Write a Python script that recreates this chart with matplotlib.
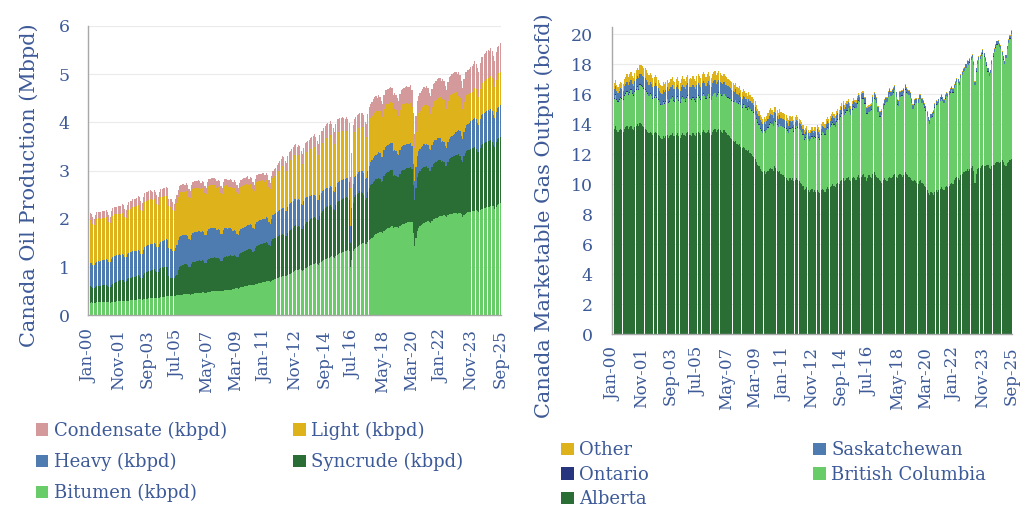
import numpy as np
import pandas as pd
import matplotlib
matplotlib.use('Agg')
import matplotlib.pyplot as plt
from matplotlib.patches import Patch

# ---- oil production by type, kbpd, monthly Jan-2000 .. Sep-2025 (one row per year)
bitumen = [
    262, 268, 270, 265, 258, 266, 272, 275, 270, 278, 282, 280,
    280, 284, 278, 272, 265, 275, 282, 288, 285, 290, 292, 296,
    300, 305, 308, 300, 295, 303, 310, 315, 312, 320, 325, 322,
    330, 335, 340, 332, 325, 338, 345, 350, 352, 355, 360, 362,
    365, 370, 372, 368, 360, 372, 380, 385, 388, 392, 395, 398,
    400, 405, 410, 402, 398, 410, 418, 420, 425, 428, 432, 435,
    438, 442, 445, 440, 432, 445, 452, 458, 460, 465, 468, 470,
    472, 478, 482, 475, 470, 485, 492, 495, 498, 502, 505, 508,
    510, 512, 515, 505, 498, 512, 520, 525, 528, 530, 535, 538,
    545, 555, 562, 560, 555, 570, 585, 592, 600, 608, 615, 620,
    625, 632, 640, 635, 630, 648, 660, 668, 672, 680, 690, 695,
    700, 712, 720, 705, 690, 715, 735, 748, 760, 770, 782, 790,
    800, 815, 828, 820, 810, 835, 855, 870, 885, 900, 925, 940,
    935, 945, 955, 940, 925, 950, 975, 990, 1005, 1020, 1040, 1055,
    1060, 1075, 1085, 1070, 1055, 1090, 1115, 1130, 1150, 1165, 1180, 1195,
    1200, 1215, 1225, 1210, 1195, 1230, 1255, 1270, 1285, 1295, 1310, 1320,
    1330, 1345, 1355, 1340, 1000, 1150, 1330, 1380, 1400, 1420, 1440, 1460,
    1480, 1495, 1505, 1490, 1475, 1520, 1560, 1585, 1610, 1635, 1660, 1680,
    1700, 1715, 1730, 1720, 1705, 1745, 1775, 1790, 1805, 1820, 1840, 1850,
    1810, 1825, 1840, 1835, 1820, 1850, 1880, 1895, 1905, 1915, 1925, 1935,
    1940, 1945, 1930, 1700, 1450, 1600, 1750, 1820, 1850, 1880, 1900, 1920,
    1930, 1945, 1955, 1940, 1925, 1960, 1990, 2005, 2015, 2030, 2045, 2055,
    2060, 2070, 2080, 2065, 2040, 2075, 2095, 2105, 2110, 2115, 2120, 2125,
    2110, 2120, 2125, 2100, 2040, 2080, 2110, 2125, 2135, 2140, 2150, 2160,
    2165, 2175, 2185, 2170, 2140, 2180, 2205, 2215, 2225, 2235, 2245, 2250,
    2255, 2265, 2275, 2260, 2200, 2250, 2290, 2310, 2330,
]
syncrude = [
    330, 335, 320, 300, 310, 325, 340, 345, 338, 342, 350, 348,
    345, 352, 340, 320, 330, 360, 380, 395, 400, 410, 420, 430,
    435, 440, 425, 400, 420, 450, 465, 470, 460, 475, 480, 485,
    490, 495, 470, 440, 460, 500, 530, 545, 550, 560, 570, 575,
    580, 585, 560, 530, 550, 590, 605, 610, 600, 615, 620, 600,
    420, 380, 370, 365, 380, 400, 430, 520, 580, 600, 610, 615,
    620, 625, 600, 560, 580, 630, 650, 660, 655, 665, 670, 675,
    660, 665, 640, 610, 620, 660, 680, 690, 685, 695, 700, 690,
    680, 675, 650, 620, 640, 680, 700, 705, 690, 700, 710, 705,
    690, 700, 680, 650, 660, 700, 720, 730, 725, 735, 740, 745,
    745, 750, 720, 690, 700, 750, 780, 790, 785, 795, 800, 805,
    810, 820, 790, 750, 760, 820, 850, 860, 855, 865, 870, 875,
    870, 880, 850, 820, 840, 880, 900, 910, 905, 915, 920, 925,
    905, 915, 880, 850, 860, 900, 930, 940, 935, 945, 950, 955,
    960, 970, 930, 900, 920, 980, 1010, 1030, 1050, 1060, 1065, 1070,
    1060, 1075, 1030, 990, 1000, 1050, 1090, 1100, 1095, 1105, 1110, 1115,
    1100, 1110, 1080, 1050, 500, 700, 1000, 1080, 1090, 1100, 1105, 1110,
    1080, 1050, 1000, 900, 950, 1030, 1080, 1110, 1120, 1130, 1135, 1140,
    1120, 1130, 1090, 1050, 1080, 1140, 1160, 1170, 1165, 1175, 1180, 1170,
    1080, 1090, 1060, 1030, 1050, 1090, 1110, 1120, 1115, 1125, 1130, 1125,
    1120, 1130, 1100, 1000, 950, 1050, 1120, 1140, 1135, 1145, 1150, 1155,
    1140, 1150, 1110, 1060, 1070, 1120, 1150, 1160, 1155, 1165, 1170, 1165,
    1120, 1130, 1090, 1040, 1050, 1100, 1140, 1160, 1170, 1180, 1190, 1200,
    1210, 1220, 1180, 1130, 1150, 1220, 1260, 1280, 1285, 1295, 1300, 1305,
    1300, 1310, 1270, 1220, 1240, 1300, 1330, 1340, 1345, 1350, 1355, 1360,
    1360, 1365, 1320, 1270, 1290, 1340, 1360, 1370, 1375,
]
heavy = [
    490, 495, 500, 480, 470, 490, 500, 505, 510, 505, 515, 520,
    530, 535, 540, 520, 505, 530, 545, 550, 555, 550, 545, 540,
    520, 525, 530, 505, 490, 515, 530, 535, 540, 545, 540, 535,
    525, 530, 535, 510, 495, 520, 540, 545, 550, 555, 550, 545,
    535, 540, 545, 520, 500, 525, 540, 545, 550, 555, 560, 565,
    580, 590, 600, 575, 560, 590, 610, 615, 620, 625, 620, 615,
    600, 605, 610, 580, 560, 590, 605, 610, 615, 610, 605, 600,
    595, 600, 610, 585, 570, 600, 615, 620, 625, 620, 615, 605,
    590, 595, 600, 570, 550, 575, 585, 590, 580, 575, 565, 555,
    520, 510, 505, 480, 460, 475, 485, 490, 495, 500, 505, 510,
    505, 510, 515, 490, 470, 495, 505, 510, 515, 510, 505, 500,
    495, 500, 505, 475, 450, 470, 490, 500, 505, 510, 515, 520,
    530, 540, 550, 525, 505, 535, 550, 555, 560, 565, 560, 555,
    545, 550, 555, 525, 500, 520, 530, 525, 515, 505, 495, 485,
    470, 460, 455, 430, 410, 425, 420, 410, 400, 395, 390, 385,
    390, 395, 400, 380, 365, 385, 395, 400, 405, 400, 395, 390,
    395, 400, 405, 385, 350, 380, 395, 405, 410, 415, 420, 425,
    430, 440, 450, 430, 415, 445, 465, 475, 485, 495, 505, 515,
    525, 535, 545, 520, 505, 535, 550, 560, 565, 560, 555, 545,
    510, 505, 500, 480, 465, 485, 495, 500, 505, 500, 495, 490,
    485, 490, 480, 430, 390, 420, 440, 450, 455, 460, 465, 470,
    460, 465, 470, 445, 425, 450, 460, 465, 470, 475, 470, 465,
    420, 425, 430, 400, 380, 410, 425, 430, 440, 450, 460, 470,
    500, 510, 520, 495, 470, 500, 520, 535, 545, 560, 575, 590,
    600, 610, 615, 590, 570, 600, 615, 620, 625, 630, 635, 640,
    630, 640, 645, 615, 600, 625, 640, 645, 650,
]
light = [
    880, 885, 875, 850, 830, 860, 880, 885, 880, 875, 870, 865,
    860, 865, 855, 830, 815, 845, 860, 865, 860, 855, 850, 845,
    850, 860, 870, 840, 825, 860, 880, 890, 895, 900, 905, 910,
    920, 930, 935, 905, 885, 920, 935, 940, 935, 930, 925, 920,
    915, 920, 925, 895, 875, 905, 920, 925, 920, 915, 910, 905,
    870, 875, 880, 850, 835, 865, 880, 890, 895, 900, 905, 910,
    900, 905, 910, 880, 860, 890, 905, 910, 905, 900, 895, 890,
    895, 900, 905, 875, 860, 885, 900, 905, 900, 895, 890, 885,
    870, 875, 880, 850, 830, 860, 870, 875, 870, 865, 860, 855,
    880, 885, 890, 860, 840, 865, 875, 880, 875, 870, 865, 860,
    820, 825, 830, 800, 780, 805, 815, 820, 815, 810, 805, 800,
    760, 765, 770, 740, 720, 750, 770, 785, 800, 815, 830, 845,
    860, 870, 880, 850, 830, 865, 885, 895, 900, 905, 910, 915,
    900, 905, 915, 880, 860, 895, 915, 925, 935, 945, 955, 965,
    975, 985, 995, 960, 940, 980, 1000, 1010, 1020, 1030, 1035, 1040,
    1040, 1045, 1050, 1010, 985, 1020, 1035, 1030, 1020, 1010, 1000, 990,
    980, 975, 970, 930, 800, 880, 930, 940, 935, 930, 925, 920,
    910, 915, 920, 885, 865, 900, 915, 920, 915, 910, 905, 900,
    860, 865, 870, 835, 815, 850, 860, 865, 855, 850, 840, 835,
    845, 850, 855, 825, 805, 840, 855, 860, 855, 850, 845, 840,
    830, 835, 820, 740, 680, 730, 770, 790, 800, 805, 810, 815,
    800, 805, 810, 780, 760, 790, 805, 815, 820, 825, 830, 835,
    860, 865, 870, 840, 815, 850, 865, 870, 865, 855, 845, 835,
    720, 700, 690, 650, 610, 630, 640, 630, 620, 600, 590, 580,
    610, 620, 630, 600, 580, 620, 640, 650, 655, 660, 665, 670,
    680, 685, 690, 660, 640, 670, 685, 690, 695,
]
condensate = [
    140, 150, 135, 145, 130, 140, 150, 135, 145, 140, 150, 145,
    145, 155, 140, 150, 135, 145, 155, 140, 150, 145, 155, 150,
    160, 170, 155, 165, 150, 160, 170, 155, 165, 175, 170, 165,
    175, 185, 170, 180, 165, 175, 185, 170, 180, 175, 185, 180,
    170, 180, 165, 175, 160, 170, 180, 165, 175, 170, 180, 175,
    150, 160, 145, 155, 140, 150, 160, 145, 155, 150, 160, 155,
    150, 160, 145, 155, 140, 150, 160, 145, 155, 150, 160, 155,
    130, 140, 125, 135, 120, 130, 140, 125, 135, 130, 140, 135,
    140, 150, 135, 145, 130, 140, 150, 135, 145, 140, 150, 145,
    140, 150, 135, 145, 130, 140, 150, 135, 145, 140, 150, 145,
    140, 150, 135, 145, 130, 140, 150, 135, 145, 140, 150, 145,
    140, 150, 135, 145, 130, 140, 150, 135, 145, 150, 160, 170,
    180, 195, 175, 190, 170, 185, 200, 180, 195, 205, 215, 210,
    210, 225, 200, 215, 195, 210, 225, 205, 220, 230, 240, 235,
    250, 270, 240, 260, 235, 255, 275, 250, 270, 285, 295, 290,
    280, 295, 270, 285, 260, 280, 295, 270, 285, 280, 290, 285,
    275, 290, 265, 280, 220, 260, 285, 265, 280, 285, 295, 290,
    290, 305, 280, 295, 270, 290, 305, 285, 300, 310, 320, 315,
    300, 320, 290, 310, 280, 300, 320, 295, 310, 315, 325, 320,
    320, 340, 310, 330, 300, 320, 340, 315, 335, 340, 350, 345,
    350, 370, 340, 330, 300, 330, 355, 340, 360, 365, 375, 370,
    380, 400, 370, 390, 360, 380, 400, 375, 395, 405, 415, 410,
    400, 420, 390, 410, 380, 400, 420, 395, 415, 420, 430, 425,
    470, 500, 460, 490, 450, 480, 505, 475, 500, 520, 530, 525,
    530, 560, 520, 550, 510, 540, 565, 535, 560, 570, 580, 575,
    560, 590, 550, 580, 540, 570, 595, 565, 590,
]

# ---- marketable gas output by province, bcfd
alberta = [
    13.8, 13.7, 13.9, 13.6, 13.5, 13.6, 13.7, 13.6, 13.5, 13.7, 13.8, 13.9,
    13.7, 13.8, 13.9, 13.7, 13.6, 13.8, 13.9, 14.0, 13.9, 14.1, 14.0, 13.9,
    13.8, 13.7, 13.6, 13.5, 13.4, 13.5, 13.4, 13.3, 13.4, 13.5, 13.4, 13.3,
    13.2, 13.1, 13.0, 13.2, 13.1, 13.2, 13.3, 13.1, 13.2, 13.3, 13.4, 13.2,
    13.2, 13.3, 13.4, 13.2, 13.1, 13.3, 13.4, 13.3, 13.2, 13.4, 13.5, 13.3,
    13.3, 13.2, 13.4, 13.3, 13.2, 13.4, 13.5, 13.4, 13.3, 13.5, 13.6, 13.5,
    13.4, 13.5, 13.6, 13.4, 13.3, 13.5, 13.6, 13.7, 13.5, 13.6, 13.7, 13.6,
    13.5, 13.4, 13.6, 13.5, 13.4, 13.3, 13.2, 13.1, 13.0, 12.9, 12.8, 12.9,
    12.7, 12.6, 12.7, 12.5, 12.4, 12.5, 12.4, 12.3, 12.2, 12.3, 12.1, 12.0,
    11.9, 11.8, 11.7, 11.5, 11.3, 11.2, 11.0, 10.9, 10.8, 10.9, 10.7, 10.8,
    10.9, 11.0, 11.1, 11.0, 10.9, 11.2, 11.1, 10.9, 10.8, 10.9, 10.7, 10.6,
    10.6, 10.5, 10.4, 10.3, 10.2, 10.4, 10.3, 10.4, 10.2, 10.3, 10.4, 10.3,
    10.2, 10.1, 10.0, 9.9, 9.6, 9.7, 9.8, 9.6, 9.5, 9.6, 9.7, 9.5,
    9.6, 9.5, 9.6, 9.5, 9.4, 9.6, 9.7, 9.6, 9.5, 9.7, 9.8, 9.7,
    9.8, 9.9, 10.0, 9.9, 9.8, 10.0, 10.1, 10.0, 10.2, 10.3, 10.4, 10.2,
    10.3, 10.4, 10.5, 10.3, 10.2, 10.4, 10.5, 10.4, 10.3, 10.5, 10.6, 10.4,
    10.5, 10.6, 10.7, 10.5, 10.2, 10.4, 10.6, 10.5, 10.4, 10.7, 10.8, 10.6,
    10.5, 10.4, 10.3, 10.2, 10.1, 10.3, 10.4, 10.3, 10.2, 10.4, 10.5, 10.4,
    10.5, 10.6, 10.7, 10.5, 10.4, 10.6, 10.7, 10.6, 10.5, 10.6, 10.8, 10.7,
    10.6, 10.5, 10.4, 10.3, 10.2, 10.3, 10.2, 10.1, 10.0, 10.2, 10.3, 10.1,
    10.0, 9.9, 9.8, 9.6, 9.4, 9.3, 9.5, 9.4, 9.3, 9.5, 9.6, 9.5,
    9.6, 9.7, 9.8, 9.7, 9.6, 9.8, 9.9, 9.8, 9.9, 10.0, 10.1, 10.0,
    10.3, 10.4, 10.5, 10.4, 10.3, 10.6, 10.7, 10.8, 10.8, 10.9, 11.0, 10.9,
    11.0, 11.1, 11.2, 10.9, 10.1, 10.7, 11.0, 11.1, 11.1, 11.2, 11.3, 11.2,
    11.2, 11.3, 11.3, 11.1, 11.0, 11.2, 11.3, 11.3, 11.4, 11.5, 11.5, 11.4,
    11.5, 11.6, 11.5, 11.3, 11.2, 11.4, 11.5, 11.6, 11.7,
]
british_columbia = [
    1.95, 2.00, 2.05, 2.00, 1.95, 2.00, 2.05, 2.10, 2.10, 2.15, 2.20, 2.25,
    2.25, 2.30, 2.35, 2.30, 2.25, 2.35, 2.40, 2.45, 2.40, 2.50, 2.55, 2.55,
    2.55, 2.60, 2.55, 2.50, 2.45, 2.50, 2.45, 2.40, 2.35, 2.40, 2.35, 2.30,
    2.25, 2.20, 2.25, 2.30, 2.25, 2.30, 2.35, 2.30, 2.30, 2.35, 2.40, 2.35,
    2.30, 2.35, 2.40, 2.35, 2.30, 2.35, 2.40, 2.35, 2.30, 2.35, 2.40, 2.35,
    2.35, 2.40, 2.35, 2.30, 2.30, 2.35, 2.40, 2.35, 2.30, 2.35, 2.40, 2.35,
    2.30, 2.35, 2.40, 2.35, 2.30, 2.35, 2.40, 2.35, 2.30, 2.35, 2.40, 2.40,
    2.40, 2.45, 2.40, 2.35, 2.40, 2.45, 2.50, 2.55, 2.55, 2.60, 2.65, 2.70,
    2.70, 2.75, 2.80, 2.75, 2.70, 2.80, 2.85, 2.80, 2.75, 2.85, 2.90, 2.90,
    2.95, 2.95, 2.90, 2.85, 2.80, 2.75, 2.70, 2.65, 2.60, 2.65, 2.70, 2.80,
    2.85, 2.95, 3.00, 3.00, 2.95, 3.00, 3.05, 3.05, 3.00, 3.10, 3.15, 3.20,
    3.20, 3.25, 3.30, 3.25, 3.20, 3.30, 3.35, 3.35, 3.30, 3.40, 3.45, 3.45,
    3.45, 3.50, 3.45, 3.40, 3.35, 3.40, 3.45, 3.40, 3.35, 3.40, 3.45, 3.50,
    3.55, 3.60, 3.65, 3.60, 3.55, 3.70, 3.75, 3.80, 3.80, 3.90, 3.95, 3.95,
    4.00, 4.05, 4.10, 4.05, 4.00, 4.15, 4.20, 4.25, 4.30, 4.40, 4.45, 4.40,
    4.45, 4.50, 4.55, 4.50, 4.40, 4.55, 4.65, 4.70, 4.75, 4.85, 4.95, 5.05,
    5.15, 5.10, 5.00, 4.85, 4.50, 4.30, 4.20, 4.35, 4.55, 4.75, 4.90, 5.00,
    4.90, 4.40, 4.20, 4.30, 4.50, 4.70, 4.90, 5.10, 5.25, 5.40, 5.50, 5.45,
    5.45, 5.50, 5.55, 5.30, 4.90, 4.60, 5.10, 5.30, 5.40, 5.45, 5.50, 5.40,
    5.40, 5.45, 5.35, 5.10, 4.80, 5.00, 5.20, 5.30, 5.40, 5.45, 5.35, 5.30,
    5.25, 5.20, 5.10, 4.95, 4.80, 4.70, 4.90, 5.10, 5.35, 5.60, 5.70, 5.75,
    5.80, 5.85, 5.90, 5.85, 5.80, 5.90, 5.95, 6.00, 6.05, 6.10, 6.15, 6.10,
    6.10, 6.20, 6.30, 6.35, 6.30, 6.45, 6.55, 6.65, 6.75, 6.85, 7.00, 7.05,
    7.10, 7.15, 7.20, 7.05, 6.50, 6.80, 7.00, 7.15, 7.25, 7.35, 7.40, 7.30,
    7.00, 6.60, 6.20, 6.10, 6.40, 6.80, 7.20, 7.50, 7.70, 7.80, 7.85, 7.75,
    7.50, 7.00, 6.80, 6.70, 7.20, 7.60, 7.90, 8.10, 8.30,
]
ontario = [
    0.06, 0.06, 0.06, 0.06, 0.06, 0.06, 0.06, 0.06, 0.06, 0.06, 0.06, 0.06,
    0.06, 0.06, 0.06, 0.06, 0.06, 0.06, 0.06, 0.06, 0.06, 0.06, 0.06, 0.06,
    0.05, 0.05, 0.05, 0.05, 0.05, 0.05, 0.05, 0.05, 0.05, 0.05, 0.05, 0.05,
    0.05, 0.05, 0.05, 0.05, 0.05, 0.05, 0.05, 0.05, 0.05, 0.05, 0.05, 0.05,
    0.05, 0.05, 0.05, 0.05, 0.05, 0.05, 0.05, 0.05, 0.05, 0.05, 0.05, 0.05,
    0.05, 0.05, 0.05, 0.05, 0.05, 0.05, 0.05, 0.05, 0.05, 0.05, 0.05, 0.05,
    0.04, 0.04, 0.04, 0.04, 0.04, 0.04, 0.04, 0.04, 0.04, 0.04, 0.04, 0.04,
    0.04, 0.04, 0.04, 0.04, 0.04, 0.04, 0.04, 0.04, 0.04, 0.04, 0.04, 0.04,
    0.04, 0.04, 0.04, 0.04, 0.04, 0.04, 0.04, 0.04, 0.04, 0.04, 0.04, 0.04,
    0.04, 0.04, 0.04, 0.04, 0.04, 0.04, 0.04, 0.04, 0.04, 0.04, 0.04, 0.04,
    0.04, 0.04, 0.04, 0.04, 0.04, 0.04, 0.04, 0.04, 0.04, 0.04, 0.04, 0.04,
    0.03, 0.03, 0.03, 0.03, 0.03, 0.03, 0.03, 0.03, 0.03, 0.03, 0.03, 0.03,
    0.03, 0.03, 0.03, 0.03, 0.03, 0.03, 0.03, 0.03, 0.03, 0.03, 0.03, 0.03,
    0.03, 0.03, 0.03, 0.03, 0.03, 0.03, 0.03, 0.03, 0.03, 0.03, 0.03, 0.03,
    0.03, 0.03, 0.03, 0.03, 0.03, 0.03, 0.03, 0.03, 0.03, 0.03, 0.03, 0.03,
    0.03, 0.03, 0.03, 0.03, 0.03, 0.03, 0.03, 0.03, 0.03, 0.03, 0.03, 0.03,
    0.03, 0.03, 0.03, 0.03, 0.03, 0.03, 0.03, 0.03, 0.03, 0.03, 0.03, 0.03,
    0.02, 0.02, 0.02, 0.02, 0.02, 0.02, 0.02, 0.02, 0.02, 0.02, 0.02, 0.02,
    0.02, 0.02, 0.02, 0.02, 0.02, 0.02, 0.02, 0.02, 0.02, 0.02, 0.02, 0.02,
    0.02, 0.02, 0.02, 0.02, 0.02, 0.02, 0.02, 0.02, 0.02, 0.02, 0.02, 0.02,
    0.02, 0.02, 0.02, 0.02, 0.02, 0.02, 0.02, 0.02, 0.02, 0.02, 0.02, 0.02,
    0.02, 0.02, 0.02, 0.02, 0.02, 0.02, 0.02, 0.02, 0.02, 0.02, 0.02, 0.02,
    0.02, 0.02, 0.02, 0.02, 0.02, 0.02, 0.02, 0.02, 0.02, 0.02, 0.02, 0.02,
    0.02, 0.02, 0.02, 0.02, 0.02, 0.02, 0.02, 0.02, 0.02, 0.02, 0.02, 0.02,
    0.02, 0.02, 0.02, 0.02, 0.02, 0.02, 0.02, 0.02, 0.02, 0.02, 0.02, 0.02,
    0.02, 0.02, 0.02, 0.02, 0.02, 0.02, 0.02, 0.02, 0.02,
]
saskatchewan = [
    0.55, 0.56, 0.55, 0.54, 0.55, 0.57, 0.58, 0.57, 0.58, 0.60, 0.61, 0.60,
    0.62, 0.63, 0.64, 0.63, 0.64, 0.66, 0.67, 0.68, 0.69, 0.70, 0.71, 0.72,
    0.73, 0.74, 0.74, 0.73, 0.74, 0.75, 0.76, 0.75, 0.76, 0.77, 0.76, 0.75,
    0.74, 0.73, 0.74, 0.75, 0.74, 0.75, 0.76, 0.75, 0.76, 0.77, 0.76, 0.76,
    0.76, 0.77, 0.78, 0.77, 0.76, 0.78, 0.79, 0.78, 0.79, 0.80, 0.79, 0.78,
    0.79, 0.80, 0.81, 0.80, 0.79, 0.81, 0.82, 0.81, 0.82, 0.83, 0.82, 0.81,
    0.82, 0.83, 0.84, 0.82, 0.81, 0.82, 0.83, 0.82, 0.81, 0.80, 0.79, 0.78,
    0.78, 0.77, 0.76, 0.75, 0.74, 0.73, 0.72, 0.71, 0.70, 0.69, 0.68, 0.67,
    0.60, 0.58, 0.56, 0.55, 0.54, 0.53, 0.52, 0.51, 0.50, 0.50, 0.49, 0.48,
    0.50, 0.51, 0.50, 0.52, 0.53, 0.54, 0.55, 0.54, 0.55, 0.56, 0.55, 0.54,
    0.55, 0.54, 0.55, 0.54, 0.53, 0.54, 0.55, 0.54, 0.53, 0.54, 0.53, 0.52,
    0.52, 0.51, 0.50, 0.49, 0.48, 0.47, 0.46, 0.45, 0.44, 0.43, 0.42, 0.41,
    0.40, 0.39, 0.38, 0.37, 0.36, 0.36, 0.35, 0.36, 0.35, 0.36, 0.37, 0.36,
    0.37, 0.38, 0.39, 0.38, 0.37, 0.38, 0.39, 0.40, 0.39, 0.40, 0.41, 0.40,
    0.41, 0.40, 0.41, 0.40, 0.39, 0.40, 0.41, 0.40, 0.39, 0.40, 0.41, 0.40,
    0.39, 0.38, 0.37, 0.36, 0.35, 0.36, 0.35, 0.34, 0.35, 0.36, 0.35, 0.34,
    0.34, 0.33, 0.34, 0.33, 0.32, 0.33, 0.34, 0.33, 0.32, 0.33, 0.32, 0.31,
    0.31, 0.30, 0.31, 0.30, 0.29, 0.30, 0.31, 0.30, 0.29, 0.30, 0.31, 0.30,
    0.30, 0.29, 0.30, 0.29, 0.28, 0.29, 0.30, 0.29, 0.28, 0.29, 0.30, 0.29,
    0.28, 0.27, 0.28, 0.27, 0.26, 0.27, 0.28, 0.27, 0.26, 0.27, 0.28, 0.27,
    0.26, 0.25, 0.26, 0.25, 0.24, 0.23, 0.24, 0.23, 0.24, 0.25, 0.24, 0.23,
    0.23, 0.22, 0.23, 0.22, 0.21, 0.22, 0.23, 0.22, 0.21, 0.22, 0.23, 0.22,
    0.22, 0.21, 0.22, 0.21, 0.20, 0.21, 0.22, 0.21, 0.20, 0.21, 0.22, 0.21,
    0.21, 0.20, 0.21, 0.20, 0.19, 0.20, 0.21, 0.20, 0.19, 0.20, 0.21, 0.20,
    0.20, 0.19, 0.20, 0.19, 0.18, 0.19, 0.20, 0.19, 0.18, 0.19, 0.20, 0.19,
    0.19, 0.18, 0.19, 0.18, 0.17, 0.18, 0.19, 0.18, 0.19,
]
other = [
    0.40, 0.42, 0.41, 0.43, 0.42, 0.44, 0.45, 0.44, 0.46, 0.47, 0.48, 0.50,
    0.50, 0.52, 0.51, 0.53, 0.52, 0.54, 0.55, 0.56, 0.57, 0.58, 0.60, 0.62,
    0.63, 0.65, 0.64, 0.62, 0.61, 0.60, 0.59, 0.58, 0.57, 0.56, 0.55, 0.54,
    0.53, 0.52, 0.51, 0.52, 0.51, 0.50, 0.51, 0.52, 0.51, 0.52, 0.53, 0.52,
    0.52, 0.53, 0.54, 0.53, 0.52, 0.53, 0.54, 0.55, 0.54, 0.55, 0.56, 0.55,
    0.56, 0.57, 0.58, 0.57, 0.56, 0.58, 0.59, 0.60, 0.59, 0.60, 0.61, 0.60,
    0.60, 0.61, 0.62, 0.61, 0.60, 0.61, 0.62, 0.61, 0.60, 0.59, 0.58, 0.57,
    0.57, 0.56, 0.55, 0.54, 0.53, 0.52, 0.51, 0.50, 0.49, 0.48, 0.47, 0.46,
    0.45, 0.44, 0.45, 0.44, 0.43, 0.44, 0.43, 0.42, 0.41, 0.42, 0.41, 0.40,
    0.40, 0.39, 0.38, 0.37, 0.36, 0.35, 0.34, 0.35, 0.34, 0.35, 0.36, 0.37,
    0.38, 0.39, 0.40, 0.39, 0.38, 0.39, 0.40, 0.41, 0.40, 0.41, 0.40, 0.39,
    0.40, 0.39, 0.38, 0.37, 0.36, 0.35, 0.34, 0.33, 0.32, 0.31, 0.30, 0.29,
    0.28, 0.27, 0.26, 0.25, 0.24, 0.25, 0.24, 0.25, 0.24, 0.25, 0.26, 0.25,
    0.26, 0.27, 0.28, 0.27, 0.28, 0.29, 0.30, 0.29, 0.30, 0.31, 0.30, 0.29,
    0.30, 0.31, 0.30, 0.29, 0.30, 0.31, 0.30, 0.29, 0.28, 0.27, 0.26, 0.25,
    0.24, 0.23, 0.22, 0.21, 0.20, 0.19, 0.18, 0.17, 0.16, 0.16, 0.15, 0.15,
    0.15, 0.14, 0.14, 0.13, 0.12, 0.12, 0.11, 0.11, 0.10, 0.10, 0.09, 0.09,
    0.09, 0.08, 0.08, 0.08, 0.07, 0.08, 0.07, 0.07, 0.08, 0.07, 0.07, 0.06,
    0.07, 0.06, 0.07, 0.06, 0.06, 0.07, 0.06, 0.06, 0.07, 0.06, 0.06, 0.06,
    0.06, 0.05, 0.06, 0.05, 0.05, 0.06, 0.05, 0.05, 0.06, 0.05, 0.05, 0.05,
    0.05, 0.05, 0.04, 0.04, 0.04, 0.05, 0.05, 0.04, 0.05, 0.05, 0.04, 0.05,
    0.05, 0.04, 0.05, 0.05, 0.04, 0.05, 0.04, 0.05, 0.05, 0.04, 0.05, 0.05,
    0.04, 0.05, 0.05, 0.04, 0.05, 0.04, 0.05, 0.05, 0.04, 0.05, 0.04, 0.05,
    0.05, 0.04, 0.05, 0.04, 0.04, 0.05, 0.04, 0.05, 0.04, 0.05, 0.05, 0.04,
    0.04, 0.05, 0.04, 0.05, 0.04, 0.04, 0.05, 0.04, 0.05, 0.04, 0.05, 0.04,
    0.04, 0.05, 0.04, 0.04, 0.05, 0.04, 0.05, 0.04, 0.05,
]

TEXT = '#3D5A98'
C_COND = '#D4999A'
C_LIGHT = '#DEB21B'
C_HEAVY = '#4E7CB0'
C_SYN = '#2A6E36'
C_BIT = '#68CC68'
C_ONT = '#27357E'

plt.rcParams['font.family'] = ['DejaVu Serif']

months = pd.date_range('2000-01-01', periods=len(bitumen), freq='MS')
x = np.arange(len(months))
tick_idx = x[::22]
tick_lab = [months[i].strftime('%b-%y') for i in tick_idx]

fig = plt.figure(figsize=(10.24, 5.13), dpi=100)
ax1 = fig.add_axes([0.0859, 0.385, 0.4033, 0.5645])
ax2 = fig.add_axes([0.5977, 0.3485, 0.3906, 0.5996])


def stack(ax, series, colors, scale=1.0):
    bottom = np.zeros(len(x))
    for vals, c in zip(series, colors):
        v = np.asarray(vals, dtype=float) / scale
        ax.bar(x, v, bottom=bottom, width=0.88, color=c, linewidth=0)
        bottom += v


def style(ax, ymax, yticks, ypad, xpad):
    ax.set_xlim(-0.6, len(x) - 0.4)
    ax.set_ylim(0, ymax)
    ax.set_yticks(yticks)
    ax.set_xticks(tick_idx)
    ax.set_xticklabels(tick_lab, rotation=90)
    ax.tick_params(axis='y', length=0, pad=ypad, labelsize=12.5, labelcolor=TEXT)
    ax.tick_params(axis='x', length=0, pad=xpad, labelsize=12, labelcolor=TEXT)
    ax.grid(axis='y', color='#EBEBEB', linewidth=0.8)
    ax.set_axisbelow(True)
    for s in ['top', 'right']:
        ax.spines[s].set_visible(False)
    for s in ['left', 'bottom']:
        ax.spines[s].set_color('#A8A8A8')
        ax.spines[s].set_linewidth(1.0)


stack(ax1, [bitumen, syncrude, heavy, light, condensate],
      [C_BIT, C_SYN, C_HEAVY, C_LIGHT, C_COND], scale=1000.0)
style(ax1, 6, range(0, 7), 13, 10)
ax1.set_ylabel('Canada Oil Production (Mbpd)', fontsize=15, color=TEXT)
ax1.yaxis.set_label_coords(-0.118, 0.45)

stack(ax2, [alberta, british_columbia, ontario, saskatchewan, other],
      [C_SYN, C_BIT, C_ONT, C_HEAVY, C_LIGHT])
style(ax2, 20.5, range(0, 21, 2), 14, 9)
ax2.set_ylabel('Canada Marketable Gas Output (bcfd)', fontsize=15, color=TEXT)
ax2.yaxis.set_label_coords(-0.145, 0.385)


def col_legend(items, xpos, ypos, spacing):
    handles = [Patch(facecolor=c, edgecolor='none') for _, c in items]
    fig.legend(handles, [l for l, _ in items], loc='upper left',
               bbox_to_anchor=(xpos, ypos), frameon=False, fontsize=13,
               labelcolor=TEXT, handlelength=0.7, handleheight=0.7,
               handletextpad=0.3, labelspacing=spacing, borderpad=0,
               borderaxespad=0)


col_legend([('Condensate (kbpd)', C_COND), ('Heavy (kbpd)', C_HEAVY),
            ('Bitumen (kbpd)', C_BIT)], 0.035, 0.178, 0.72)
col_legend([('Light (kbpd)', C_LIGHT), ('Syncrude (kbpd)', C_SYN)],
           0.286, 0.178, 0.72)
col_legend([('Other', C_LIGHT), ('Ontario', C_ONT), ('Alberta', C_SYN)],
           0.548, 0.140, 0.36)
col_legend([('Saskatchewan', C_HEAVY), ('British Columbia', C_BIT)],
           0.794, 0.140, 0.36)

fig.savefig('out.png', dpi=100, facecolor='white')
